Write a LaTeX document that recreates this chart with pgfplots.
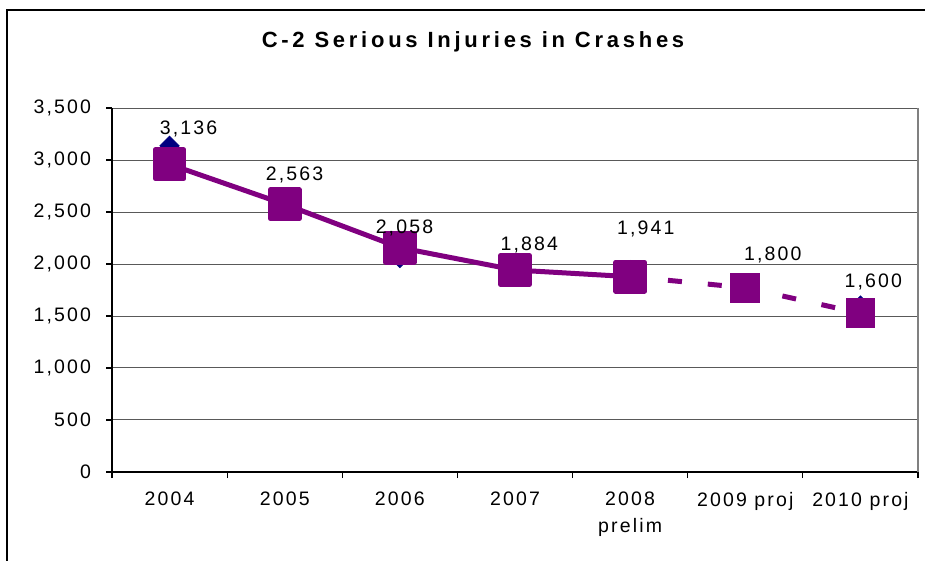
\documentclass[border=0pt]{standalone}
\usepackage{fontspec}
\setmainfont{Liberation Sans}[LetterSpace=11]
\usepackage{pgfplots}
\usepackage{pgfplotstable}
\pgfplotsset{compat=1.18}
\definecolor{xlpurple}{HTML}{800080}
\definecolor{xlnavy}{HTML}{000080}

% reported values (diamonds)
\pgfplotstableread{
x y
0 3136
1 2563
2 2058
3 1884
4 1941
5 1800
6 1600
}\actual

% trend (squares), solid part and projected part
\pgfplotstableread{
x y
0 2959
1 2574
2 2157
3 1942
4 1878
}\trendsolid
\pgfplotstableread{
x y
4 1878
5 1772
}\projA
\pgfplotstableread{
x y
5 1772
6 1526
}\projB
\pgfplotstableread{
x y
5 1772
6 1526
}\projmarks

% data label positions as placed in the chart
\pgfplotstableread{
x y t
0.165 3303 3,136
1.085 2861 2,563
2.040 2351 2,058
3.125 2183 1,884
4.136 2341 1,941
5.239 2091 1,800
6.111 1832 1,600
}\labels

\begin{document}
\begin{tikzpicture}[x=1pt,y=1pt]
\useasboundingbox (-56,-44.5) rectangle (406.5,236);
\draw[line width=0.75pt] (-52.5,-44.5) -- (-52.5,231) -- (406.5,231);
\node[font=\fontsize{11}{13}\selectfont\bfseries\addfontfeature{LetterSpace=17}] at (180.5,215) {C-2 Serious Injuries in Crashes};
\begin{axis}[
  scale only axis,
  width=403pt, height=182pt,
  xmin=-0.5, xmax=6.5, ymin=0, ymax=3500,
  axis lines=left,
  axis line style={-, line width=0.8pt, black},
  clip=false,
  ytick={0,500,...,3500},
  xtick={-0.5,0.5,...,6.5},
  xticklabels={},
  extra x ticks={0,1,2,3,4,5,6},
  extra x tick labels={2004,2005,2006,2007,{2008\\prelim},2009 proj,2010 proj},
  extra x tick style={major tick length=0pt},
  tick align=outside,
  major tick length=3pt,
  tick style={black, line width=0.6pt},
  ymajorgrids=true,
  major grid style={black!65, line width=0.5pt},
  tick label style={font=\fontsize{9.75}{13.5}\selectfont, align=center},
  xticklabel style={yshift=-6.5pt},
  yticklabel style={xshift=-4pt},
  /pgf/number format/.cd, 1000 sep={,}, assume math mode=true,
]
\draw[gray, line width=0.6pt] (rel axis cs:1,0) -- (rel axis cs:1,1);
\addplot[xlnavy, only marks, mark=square*, mark size=3.4pt, mark options={rotate=45}] table {\actual};
\addplot[xlpurple, line width=2.5pt, line join=round, mark=square*, mark size=7.2pt, mark options={solid}] table {\trendsolid};
\addplot[xlpurple, line width=2.5pt, dash pattern=on 7pt off 13pt, dash phase=1pt, mark=none] table {\projA};
\addplot[xlpurple, line width=2.5pt, dash pattern=on 7pt off 13pt, dash phase=1pt, mark=none] table {\projB};
\addplot[xlpurple, only marks, mark=square*, mark size=7.2pt] table {\projmarks};
\addplot[draw=none, mark=none, nodes near coords, point meta=explicit symbolic,
  nodes near coords align=center,
  every node near coord/.append style={font=\fontsize{9.75}{11}\selectfont, inner sep=0pt, anchor=center, black}]
  table[x=x, y=y, meta=t] {\labels};
\end{axis}
\end{tikzpicture}
\end{document}
